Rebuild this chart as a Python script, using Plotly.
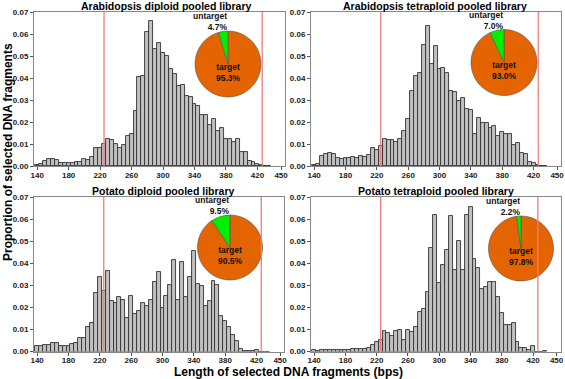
import plotly.graph_objects as go

W, H = 565, 379

bins = list(range(140, 440, 5))

ara_dip = [0.0003, 0.001, 0.0025, 0.003, 0.003, 0.0028, 0.0015, 0.0015, 0.0015, 0.0015,
           0.002, 0.002, 0.003, 0.0027, 0.004, 0.008, 0.008, 0.010, 0.0122, 0.0118,
           0.010, 0.008, 0.0095, 0.0135, 0.0145, 0.025, 0.0405, 0.041, 0.061, 0.066,
           0.053, 0.056, 0.0515, 0.050, 0.044, 0.042, 0.0365, 0.037, 0.032, 0.0315,
           0.028, 0.0275, 0.023, 0.023, 0.0185, 0.0215, 0.016, 0.0175, 0.0125, 0.0125,
           0.011, 0.0125, 0.0065, 0.0065, 0.0025, 0.002, 0.001, 0.0005, 0.0, 0.0]
ara_tet = [0.0003, 0.001, 0.0047, 0.0055, 0.0057, 0.0055, 0.0038, 0.0033, 0.0035, 0.0035,
           0.0042, 0.0038, 0.0047, 0.0043, 0.005, 0.008, 0.0075, 0.009, 0.0125, 0.012,
           0.012, 0.011, 0.0122, 0.016, 0.0215, 0.034, 0.041, 0.0425, 0.055, 0.0635,
           0.0465, 0.0545, 0.044, 0.0445, 0.0425, 0.034, 0.0335, 0.0295, 0.031, 0.026,
           0.0255, 0.0145, 0.022, 0.0195, 0.0195, 0.0175, 0.018, 0.0135, 0.0155, 0.0145,
           0.0145, 0.0095, 0.0105, 0.006, 0.0055, 0.002, 0.0015, 0.0005, 0.0, 0.0]
pot_dip = [0.0027, 0.0023, 0.003, 0.0028, 0.0037, 0.004, 0.0027, 0.0027, 0.0027, 0.0033,
           0.004, 0.0063, 0.006, 0.0112, 0.0128, 0.0263, 0.0337, 0.0273, 0.0366, 0.0227,
           0.022, 0.0246, 0.0234, 0.015, 0.0253, 0.017, 0.0185, 0.0222, 0.0204, 0.0234,
           0.0313, 0.036, 0.0195, 0.025, 0.030, 0.0416, 0.0234, 0.0407, 0.0246, 0.0336,
           0.0454, 0.0305, 0.0295, 0.0207, 0.0231, 0.032, 0.0302, 0.0162, 0.014, 0.0113,
           0.0073, 0.0048, 0.001, 0.0003, 0.0002, 0.0002, 0.0005, 0.0, 0.0, 0.0]
pot_tet = [0.0005, 0.0003, 0.0005, 0.0007, 0.0008, 0.0008, 0.0006, 0.0006, 0.0006, 0.0006,
           0.001, 0.001, 0.0012, 0.0012, 0.0015, 0.0028, 0.0045, 0.005, 0.0095, 0.0083,
           0.007, 0.0094, 0.0098, 0.005, 0.0098, 0.009, 0.011, 0.0177, 0.0193, 0.027,
           0.047, 0.062, 0.031, 0.039, 0.046, 0.0615, 0.037, 0.050, 0.037, 0.062,
           0.0655, 0.042, 0.038, 0.0285, 0.029, 0.0316, 0.0316, 0.0245, 0.0175, 0.012,
           0.0122, 0.0127, 0.0045, 0.0015, 0.0015, 0.0005, 0.0025, 0.0, 0.0, 0.0004]

titles = ["Arabidopsis diploid pooled library", "Arabidopsis tetraploid pooled library",
          "Potato diploid pooled library", "Potato tetraploid pooled library"]
series = [ara_dip, ara_tet, pot_dip, pot_tet]
pie_labels = ["target", "untarget"]
pie_values = [[95.3, 4.7], [93.0, 7.0], [90.5, 9.5], [97.8, 2.2]]
cutoffs = [225, 426]
xticks = [140, 180, 220, 260, 300, 340, 380, 420, 450]
yticks = [0.0, 0.01, 0.02, 0.03, 0.04, 0.05, 0.06, 0.07]

# plot-area pixel boxes (left, top, right, bottom)
boxes = [(34, 12, 285, 166), (311, 12, 561, 166), (34, 197, 284, 351.5), (311, 197, 560.5, 351.5)]
pies = [(228, 64, 33), (504, 62.5, 33), (230, 247.5, 32.5), (521, 248.5, 32.5)]
title_pos = [(166, 6), (435, 6), (163, 191), (436, 191)]

FONT = "Arial, Liberation Sans, sans-serif"
fig = go.Figure()
layout = dict(width=W, height=H, margin=dict(l=0, r=0, t=0, b=0, autoexpand=False),
              paper_bgcolor="white", plot_bgcolor="white", showlegend=False,
              bargap=0, font=dict(family=FONT, color="black"))
shapes, annots = [], []

def px(x):
    return x / W

def py(y):
    return 1 - y / H

for i in range(4):
    n = "" if i == 0 else str(i + 1)
    l, t, r, b = boxes[i]
    fig.add_trace(go.Bar(x=bins, y=series[i], width=5, xaxis="x" + n, yaxis="y" + n,
                         marker=dict(color="#c0c0c0", line=dict(color="#333333", width=0.9))))
    layout["xaxis" + n] = dict(domain=[px(l), px(r)], anchor="y" + n, range=[136, 455],
                               tickvals=xticks, ticks="outside", ticklen=3, tickcolor="#555",
                               showline=True, linecolor="#888", linewidth=1, mirror=True,
                               showgrid=False, zeroline=False, ticklabelstandoff=-2,
                               tickfont=dict(size=8, family=FONT, weight="bold", color="#222"))
    layout["yaxis" + n] = dict(domain=[py(b), py(t)], anchor="x" + n, range=[0, 0.07],
                               tickvals=yticks, tickformat=".2f", ticks="outside", ticklen=3,
                               tickcolor="#555", showline=True, linecolor="#888", linewidth=1,
                               mirror=True, showgrid=False, zeroline=False,
                               tickfont=dict(size=8, family=FONT, weight="bold", color="#222"))
    for c in cutoffs:
        shapes.append(dict(type="line", xref="x" + n, yref="y" + n + " domain", x0=c, x1=c,
                           y0=0, y1=1, line=dict(color="#f27c7c", width=1.3), layer="above"))
    cx, cy, rad = pies[i]
    fig.add_trace(go.Pie(labels=pie_labels, values=pie_values[i], sort=False,
                         direction="clockwise", rotation=0, textinfo="none",
                         marker=dict(colors=["#e36400", "#00ee00"], line=dict(color="#555", width=0.6)),
                         domain=dict(x=[px(cx - rad), px(cx + rad)], y=[py(cy + rad), py(cy - rad)]),
                         hoverinfo="skip"))
    annots.append(dict(xref="paper", yref="paper", x=px(cx + 1), y=py(cy - rad + 3),
                       xanchor="right", yanchor="bottom", align="right", showarrow=False,
                       text=f"<b>{pie_labels[1]}<br>{pie_values[i][1]:.1f}%</b>",
                       font=dict(size=8.5, family=FONT, color="#111")))
    annots.append(dict(xref="paper", yref="paper", x=px(cx), y=py(cy + 8),
                       xanchor="center", yanchor="middle", align="center", showarrow=False,
                       text=f"<b>{pie_labels[0]}<br>{pie_values[i][0]:.1f}%</b>",
                       font=dict(size=8.5, family=FONT, color="#111")))
    tx, ty = title_pos[i]
    annots.append(dict(xref="paper", yref="paper", x=px(tx), y=py(ty), xanchor="center",
                       yanchor="middle", showarrow=False, text=f"<b>{titles[i]}</b>",
                       font=dict(size=10.5, family=FONT, color="black")))

annots.append(dict(xref="paper", yref="paper", x=px(288), y=py(372), xanchor="center",
                   yanchor="middle", showarrow=False,
                   text="<b>Length of selected DNA fragments (bps)</b>",
                   font=dict(size=12, family=FONT, color="black")))
annots.append(dict(xref="paper", yref="paper", x=px(8), y=py(152), xanchor="center",
                   yanchor="middle", showarrow=False, textangle=-90,
                   text="<b>Proportion of selected DNA fragments</b>",
                   font=dict(size=12, family=FONT, color="black")))

layout["shapes"] = shapes
layout["annotations"] = annots
fig.update_layout(**layout)
fig.write_html("out.html", config={"displayModeBar": False},
               post_script="document.body.style.margin='0';document.body.style.padding='0';")
